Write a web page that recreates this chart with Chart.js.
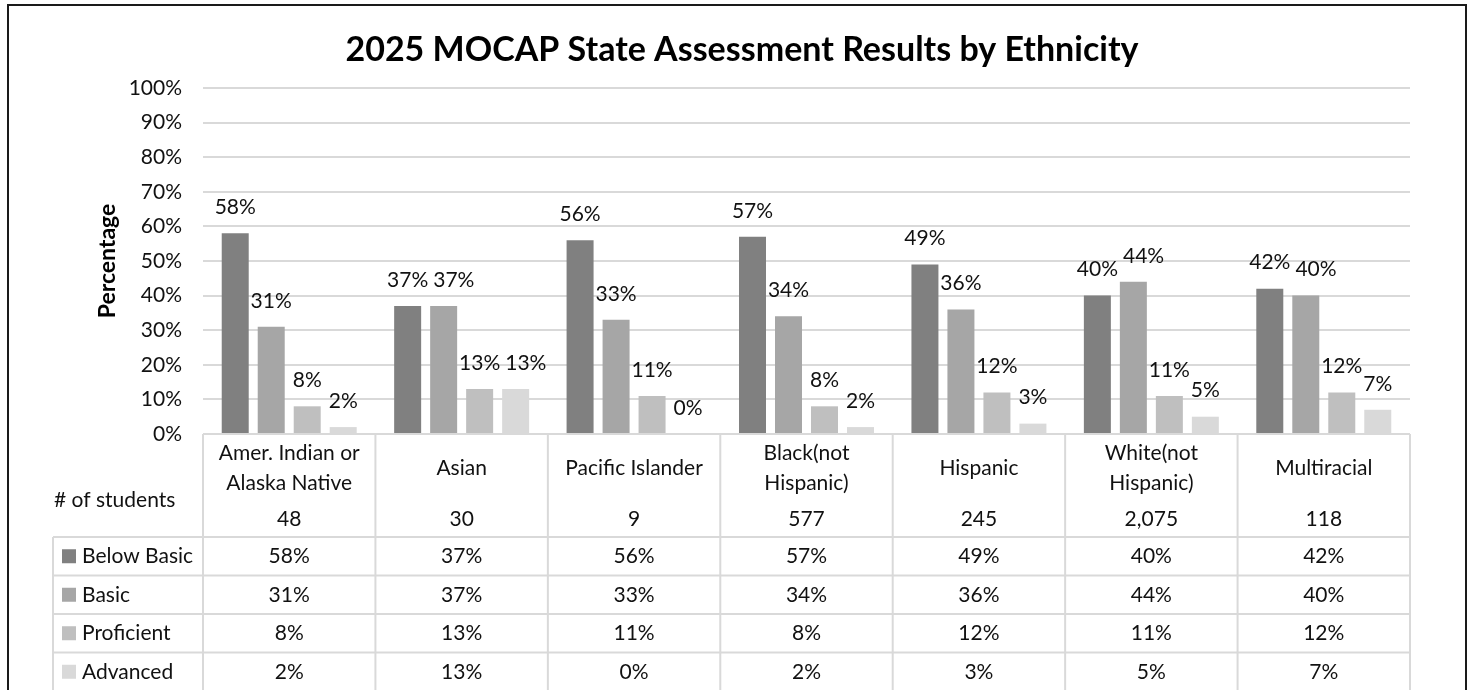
<!DOCTYPE html>
<html>
<head>
<meta charset="utf-8">
<script src="https://cdn.jsdelivr.net/npm/chart.js@4.4.1/dist/chart.umd.min.js"></script>
<style>
  html, body { margin: 0; padding: 0; background: #fff; }
  #wrap { width: 1476px; height: 690px; }
</style>
</head>
<body>
<div id="wrap"><canvas id="chart" width="1476" height="690"></canvas></div>
<script>
// data
const chartTitle = '2025 MOCAP State Assessment Results by Ethnicity';
const categories = [['Amer. Indian or', 'Alaska Native'], ['Asian'], ['Pacific Islander'], ['Black(not', 'Hispanic)'], ['Hispanic'], ['White(not', 'Hispanic)'], ['Multiracial']];
const studentCounts = ['48', '30', '9', '577', '245', '2,075', '118'];
const seriesNames = ['Below Basic', 'Basic', 'Proficient', 'Advanced'];
const belowBasic = [58, 37, 56, 57, 49, 40, 42];
const basic = [31, 37, 33, 34, 36, 44, 40];
const proficient = [8, 13, 11, 8, 12, 11, 12];
const advanced = [2, 13, 0, 2, 3, 5, 7];
const seriesColors = ['#808080', '#a6a6a6', '#bfbfbf', '#d9d9d9'];

const FONT = 'Lato, "Open Sans", sans-serif';
const TEXT = '#111';
const LINE = '#d9d9d9';

const framePlugin = {
    id: 'frame',
    beforeDraw(chart) {
        const ctx = chart.ctx;
        ctx.save();
        ctx.fillStyle = '#fff';
        ctx.fillRect(0, 0, chart.width, chart.height);
        ctx.strokeStyle = '#1a1a1a';
        ctx.lineWidth = 2;
        ctx.strokeRect(8, 5, chart.width - 18, chart.height + 20);
        ctx.fillStyle = '#000';
        ctx.font = 'bold 34px ' + FONT;
        ctx.textAlign = 'center';
        ctx.textBaseline = 'middle';
        ctx.fillText(chartTitle, chart.width / 2 + 4, 50);
        ctx.restore();
    }
};

// value labels above bars, pushed apart when neighbours collide
const labelPlugin = {
    id: 'barLabels',
    afterDatasetsDraw(chart) {
        const ctx = chart.ctx;
        ctx.save();
        ctx.font = '21px ' + FONT;
        ctx.fillStyle = TEXT;
        ctx.textAlign = 'center';
        ctx.textBaseline = 'middle';
        categories.forEach((c, i) => {
            let prev = null;
            chart.data.datasets.forEach((ds, d) => {
                const bar = chart.getDatasetMeta(d).data[i];
                const txt = ds.data[i] + '%';
                const w = ctx.measureText(txt).width;
                let cx = bar.x;
                const cy = bar.y - 26;
                if (prev && Math.abs(prev.cy - cy) < 16) {
                    const minX = prev.cx + prev.w / 2 + 5 + w / 2;
                    if (cx < minX) cx = minX;
                }
                ctx.fillText(txt, cx, cy);
                prev = { cx, cy, w };
            });
        });
        ctx.restore();
    }
};

const tablePlugin = {
    id: 'dataTable',
    afterDraw(chart) {
        const { ctx, chartArea, scales: { x } } = chart;
        const n = categories.length;
        const colW = (chartArea.right - chartArea.left) / n;
        const top = chartArea.bottom;
        const headH = 103, rowH = 38.5, tableLeft = 53;
        const rowsTop = top + headH;
        const bottom = chart.height + 5;

        ctx.save();
        ctx.strokeStyle = LINE;
        ctx.lineWidth = 2;
        ctx.beginPath();
        ctx.moveTo(chartArea.left, top);
        ctx.lineTo(chartArea.right, top);
        for (let i = 0; i <= n; i++) {
            const ex = (i < n ? x.getPixelForValue(i) : x.getPixelForValue(n - 1) + colW) - colW / 2;
            ctx.moveTo(ex, top);
            ctx.lineTo(ex, bottom);
        }
        ctx.moveTo(tableLeft, rowsTop);
        ctx.lineTo(tableLeft, bottom);
        for (let r = 0; r <= seriesNames.length; r++) {
            const ry = rowsTop + r * rowH;
            ctx.moveTo(tableLeft, ry);
            ctx.lineTo(chartArea.right, ry);
        }
        ctx.stroke();

        ctx.fillStyle = TEXT;
        ctx.font = '21px ' + FONT;
        ctx.textBaseline = 'middle';
        ctx.textAlign = 'left';
        ctx.fillText('# of students', 54, top + 66);

        ctx.textAlign = 'center';
        categories.forEach((lines, i) => {
            const cx = x.getPixelForValue(i);
            const y0 = top + 34 - (lines.length - 1) * 15;
            lines.forEach((ln, k) => ctx.fillText(ln, cx, y0 + k * 30));
            ctx.fillText(studentCounts[i], cx, top + 85);
        });

        chart.data.datasets.forEach((ds, d) => {
            const cy = rowsTop + d * rowH + rowH / 2;
            ctx.fillStyle = ds.backgroundColor;
            ctx.fillRect(62, cy - 7, 14, 14);
            ctx.fillStyle = TEXT;
            ctx.textAlign = 'left';
            ctx.fillText(ds.label, 82, cy);
            ctx.textAlign = 'center';
            ds.data.forEach((v, i) => ctx.fillText(v + '%', x.getPixelForValue(i), cy));
        });
        ctx.restore();
    }
};

new Chart(document.getElementById('chart'), {
    type: 'bar',
    data: {
        labels: categories,
        datasets: [belowBasic, basic, proficient, advanced].map((vals, d) => ({
            label: seriesNames[d],
            data: vals,
            backgroundColor: seriesColors[d],
            categoryPercentage: 0.835,
            barPercentage: 0.75
        }))
    },
    options: {
        responsive: false,
        animation: false,
        devicePixelRatio: 1,
        layout: { padding: { top: 88, left: 0, right: 66, bottom: 256 } },
        plugins: { legend: { display: false }, title: { display: false }, tooltip: { enabled: false } },
        scales: {
            x: { display: false },
            y: {
                min: 0, max: 100,
                afterFit: s => { s.width = 203; },
                grid: { color: LINE, lineWidth: 2, drawTicks: false },
                border: { display: false },
                ticks: { stepSize: 10, padding: 21, color: TEXT, font: { family: FONT, size: 21 }, callback: v => v + '%' },
                title: { display: true, text: 'Percentage', color: '#000', padding: { top: 94, bottom: 0 }, font: { family: FONT, size: 23, weight: 'bold' } }
            }
        }
    },
    plugins: [framePlugin, labelPlugin, tablePlugin]
});
</script>
</body>
</html>
